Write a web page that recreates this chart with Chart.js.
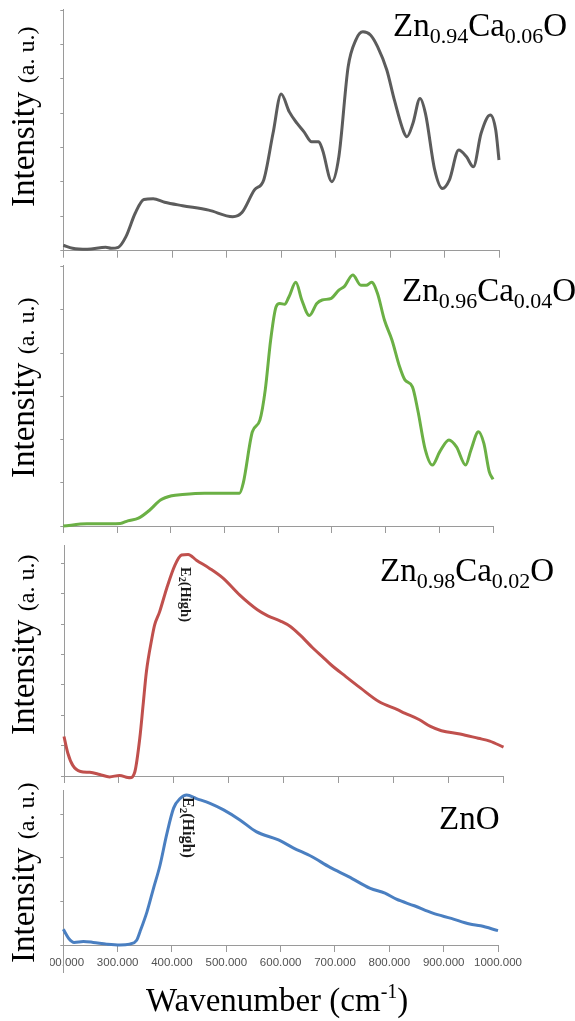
<!DOCTYPE html>
<html>
<head>
<meta charset="utf-8">
<script src="https://cdn.jsdelivr.net/npm/chart.js@4.4.1/dist/chart.umd.min.js"></script>
<style>
  body { margin: 0; width: 575px; height: 1021px; background: #fff; position: relative; overflow: hidden;
         font-family: "Liberation Serif", "Times New Roman", serif; color: #000; }
  canvas { position: absolute; }
  .ylab { position: absolute; left: 7px; font-size: 33px; line-height: 33px; white-space: nowrap;
          transform-origin: 0 0; transform: rotate(-90deg); }
  .ylab span { font-size: 24px; }
  .name { position: absolute; font-size: 33px; line-height: 33px; white-space: nowrap; }
  .name sub { font-size: 22px; line-height: 0; vertical-align: -7px; }
  .name sup { font-size: 20px; line-height: 0; vertical-align: 13px; }
  .mode { position: absolute; writing-mode: vertical-rl; font-weight: bold; white-space: nowrap; color: #1a1a1a; }
  .mode sub { font-size: 70%; line-height: 0; }
</style>
</head>
<body>
<canvas id="p1" width="575" height="262" style="left:0;top:0"></canvas>
<canvas id="p2" width="575" height="282" style="left:0;top:255px"></canvas>
<canvas id="p3" width="575" height="252" style="left:0;top:535px"></canvas>
<canvas id="p4" width="525" height="241" style="left:50px;top:780px"></canvas>

<div class="ylab" style="top:207px">Intensity <span>(a. u.)</span></div>
<div class="ylab" style="top:478px">Intensity <span>(a. u.)</span></div>
<div class="ylab" style="top:735px">Intensity <span>(a. u.)</span></div>
<div class="ylab" style="top:963px">Intensity <span>(a. u.)</span></div>

<div class="name" style="left:393px;top:9px">Zn<sub>0.94</sub>Ca<sub>0.06</sub>O</div>
<div class="name" style="left:402px;top:274px">Zn<sub>0.96</sub>Ca<sub>0.04</sub>O</div>
<div class="name" style="left:380px;top:554px">Zn<sub>0.98</sub>Ca<sub>0.02</sub>O</div>
<div class="name" style="left:439px;top:802px">ZnO</div>
<div class="name" style="left:146px;top:984px">Wavenumber (cm<sup>-1</sup>)</div>

<div class="mode" style="left:178px;top:567px;font-size:14.5px;line-height:15px">E<sub>2</sub>(High)</div>
<div class="mode" style="left:180px;top:797px;font-size:16px;line-height:16px">E<sub>2</sub>(High)</div>

<script>
// wavenumber tick values (cm-1)
const xTicks = [200, 300, 400, 500, 600, 700, 800, 900, 1000];

// Zn0.94Ca0.06O
const wn094 = [200,217,244,278,288,301,315,332,348,365,386,419,467,511,528,551,568,585,600,615,629,642,656,669,676,693,706,723,737,750,764,777,794,808,825,831,842,855,865,882,896,909,926,940,953,967,984,994,1000];
const int094 = [0.16,0.07,0.04,0.1,0.07,0.1,0.41,1.09,1.49,1.51,1.41,1.31,1.18,0.99,1.11,1.77,2.06,3.41,4.56,4.04,3.71,3.46,3.17,3.17,2.93,2.01,2.74,5.35,6.13,6.37,6.28,5.94,5.26,4.38,3.46,3.32,3.71,4.43,3.99,2.35,1.81,2.06,2.93,2.74,2.44,3.41,3.95,3.51,2.64];

// Zn0.96Ca0.04O
const wn096 = [200,244,306,320,340,361,381,402,422,463,497,528,535,552,566,576,586,596,603,612,620,633,644,658,672,682,699,713,723,739,754,764,774,785,798,812,826,836,850,860,874,887,901,918,932,949,959,973,983,993,1000];
const int096 = [0,0.05,0.06,0.12,0.18,0.37,0.6,0.7,0.73,0.76,0.76,0.76,0.99,2.18,2.45,3.15,4.3,5.07,5.15,5.13,5.3,5.64,5.23,4.87,5.15,5.23,5.27,5.46,5.54,5.81,5.57,5.57,5.64,5.38,4.76,4.3,3.69,3.38,3.22,2.68,1.76,1.41,1.72,1.99,1.83,1.41,1.76,2.18,1.91,1.26,1.08];

// Zn0.98Ca0.02O
const wn098 = [200,207,216,230,247,265,283,301,316,320,329,338,344,350,360,365,374,387,402,414,426,441,465,490,520,552,571,595,612,629,653,673,686,713,740,773,807,820,847,867,887,921,954,975,1000];
const int098 = [1.3,0.75,0.35,0.15,0.12,0.05,-0.03,0.02,-0.05,-0.06,0.14,1.25,2.34,3.43,4.53,4.97,5.4,6.18,6.94,7.27,7.29,7.1,6.83,6.5,5.95,5.47,5.27,5.09,4.92,4.65,4.21,3.88,3.66,3.27,2.89,2.45,2.18,2.07,1.85,1.63,1.49,1.38,1.24,1.15,0.95];

// ZnO
const wnZnO = [200,210,220,237,255,280,304,322,335,341,354,366,378,390,403,415,427,445,470,495,525,555,596,623,657,691,725,765,792,813,846,880,914,948,968,1000];
const intZnO = [0.36,0.15,0.06,0.08,0.06,0.02,0,0.02,0.11,0.3,0.76,1.3,1.83,2.52,3.14,3.36,3.44,3.36,3.25,3.1,2.87,2.6,2.41,2.23,2.03,1.78,1.57,1.3,1.19,1.05,0.9,0.73,0.61,0.48,0.44,0.33];

const axisGrey = '#9a9a9a';

// little extension of the y axis below the last panel
const axisTail = {
  id: 'axisTail',
  afterDraw(chart) {
    const { ctx, chartArea } = chart;
    const x = Math.round(chartArea.left) + 0.5;
    ctx.save();
    ctx.strokeStyle = axisGrey;
    ctx.lineWidth = 1;
    ctx.beginPath();
    ctx.moveTo(x, chartArea.bottom);
    ctx.lineTo(x, chartArea.bottom + 28);
    ctx.stroke();
    ctx.restore();
  }
};

function panel(id, xs, ys, color, box) {
  const canvas = document.getElementById(id);
  const yTicks = [];
  for (let v = 0; v <= box.yTop; v++) yTicks.push(v);
  new Chart(canvas, {
    type: 'line',
    data: {
      datasets: [{
        data: xs.map((x, i) => ({ x: x, y: ys[i] })),
        borderColor: color,
        borderWidth: 3,
        pointRadius: 0,
        cubicInterpolationMode: 'monotone',
        fill: false,
        clip: 8
      }]
    },
    options: {
      responsive: false,
      animation: false,
      devicePixelRatio: 1,
      layout: { padding: { top: box.top - box.ct, right: box.cl + box.cw - box.right, left: 0, bottom: 0 } },
      plugins: { legend: { display: false }, tooltip: { enabled: false } },
      scales: {
        x: {
          type: 'linear', min: 200, max: 1000,
          afterBuildTicks: s => { s.ticks = xTicks.map(v => ({ value: v })); },
          afterFit: s => { s.height = box.ct + box.ch - box.bottom; s.paddingLeft = 0; s.paddingRight = 0; },
          grid: { drawOnChartArea: false, drawTicks: true, tickLength: 7, color: axisGrey },
          border: { display: true, color: axisGrey, width: 1 },
          ticks: {
            display: box.labels,
            autoSkip: false, maxRotation: 0, minRotation: 0, padding: 4,
            color: '#505050',
            font: { family: '"Liberation Sans", Arial, sans-serif', size: 11.5 },
            callback: v => Number(v).toFixed(3)
          }
        },
        y: {
          min: 0, max: box.yMax,
          afterBuildTicks: s => { s.ticks = yTicks.map(v => ({ value: v })); },
          afterFit: s => { s.width = box.left - box.cl; s.paddingTop = 0; s.paddingBottom = 0; },
          grid: { drawOnChartArea: false, drawTicks: true, tickLength: 3, color: axisGrey },
          border: { display: true, color: axisGrey, width: 1 },
          ticks: { display: false }
        }
      }
    },
    plugins: box.tail ? [axisTail] : []
  });
}

panel('p1', wn094, int094, '#5c5c5c',
  { cl: 0, ct: 0, cw: 575, ch: 262, left: 63.3, right: 499, top: 9.5, bottom: 250.7, yMax: 7.02, yTop: 7, labels: false });
panel('p2', wn096, int096, '#6bb045',
  { cl: 0, ct: 255, cw: 575, ch: 282, left: 63.3, right: 493, top: 265, bottom: 526, yMax: 6.04, yTop: 6, labels: false });
panel('p3', wn098, int098, '#c0504d',
  { cl: 0, ct: 535, cw: 575, ch: 252, left: 64, right: 503.5, top: 545, bottom: 776, yMax: 7.6, yTop: 7, labels: false });
panel('p4', wnZnO, intZnO, '#4a7fc1',
  { cl: 50, ct: 780, cw: 525, ch: 241, left: 63.3, right: 498, top: 790.7, bottom: 945, yMax: 3.54, yTop: 3, labels: true, tail: true });
</script>
</body>
</html>
